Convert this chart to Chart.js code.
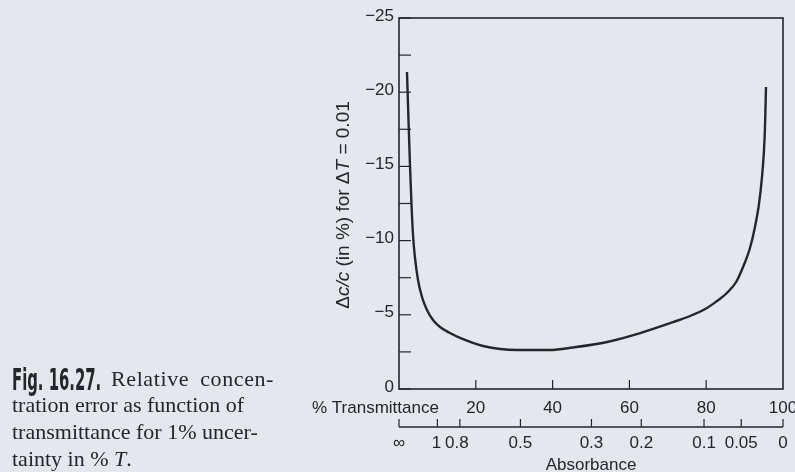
<!DOCTYPE html>
<html>
<head>
<meta charset="utf-8">
<script src="https://cdn.jsdelivr.net/npm/chart.js@4.4.0/dist/chart.umd.min.js"></script>
<style>
  html, body { margin: 0; padding: 0; background: #e4e7ed; }
  #wrap { position: relative; width: 795px; height: 472px; overflow: hidden; }
  #c { position: absolute; left: 0; top: 0; }
  .cap { position: absolute; font-family: "Liberation Serif", serif; font-size: 22px; line-height: 22px; color: #262626; white-space: nowrap; }
  .fig { position: absolute; left: 12px; top: 365px; font-family: "Liberation Sans Narrow", "DejaVu Sans Condensed", sans-serif; font-weight: bold; font-size: 30px; line-height: 30px; color: #262626; white-space: nowrap; transform: scaleX(0.55); transform-origin: left top; }
</style>
</head>
<body>
<div id="wrap">
  <canvas id="c" width="795" height="472"></canvas>
  <div class="fig">Fig. 16.27.</div>
  <div class="cap" style="left: 111px; top: 368px; word-spacing: 5px; letter-spacing: 0.6px;">Relative concen-</div>
  <div class="cap" style="left: 12px; top: 394px;">tration error as function of</div>
  <div class="cap" style="left: 12px; top: 421px;">transmittance for 1% uncer-</div>
  <div class="cap" style="left: 12px; top: 448px;">tainty in % <i>T</i>.</div>
</div>
<script>
// curve: % transmittance vs relative concentration error (%)
const pctT   = [2.08, 2.47, 2.86, 3.26, 3.65, 4.17, 4.95, 5.99, 7.29, 8.85, 10.68, 13.28, 15.89, 21.88, 30.73, 39.3, 45.3, 54.2, 62.8, 71.4, 75.8, 80.2, 82.8, 85.4, 87.8, 89.6, 91.4, 92.7, 93.75, 94.53, 95.05, 95.31, 95.57];
const errPct = [-21.36, -18.13, -15.09, -12.4, -10.38, -8.83, -7.35, -6.2, -5.32, -4.65, -4.18, -3.77, -3.44, -2.9, -2.63, -2.63, -2.8, -3.17, -3.77, -4.51, -4.92, -5.46, -5.93, -6.47, -7.21, -8.22, -9.5, -10.92, -12.47, -14.29, -16.1, -17.65, -20.35];

const yTickMarks  = [-25, -22.5, -20, -17.5, -15, -12.5, -10, -7.5, -5, -2.5, 0];
const yTickLabels = [-25, -20, -15, -10, -5, 0];
const tTicks      = [20, 40, 60, 80, 100];
const absLabels   = ['\u221e', '1', '0.8', '0.5', '0.3', '0.2', '0.1', '0.05', '0'];
const absValues   = [Infinity, 1, 0.8, 0.5, 0.3, 0.2, 0.1, 0.05, 0];

const ink = '#262626';
const sans = '"Liberation Sans", Arial, sans-serif';

function minusStr(v){ return v < 0 ? '\u2212' + Math.abs(v) : String(v); }

function drawSegments(ctx, segs, x, y, size){
    // mixed italic / upright runs, centred at x
    let total = 0;
    for(const s of segs){
        ctx.font = (s[1] ? 'italic ' : '') + size + 'px ' + sans;
        total += ctx.measureText(s[0]).width;
    }
    let cx = x - total / 2;
    for(const s of segs){
        ctx.font = (s[1] ? 'italic ' : '') + size + 'px ' + sans;
        ctx.fillText(s[0], cx, y);
        cx += ctx.measureText(s[0]).width;
    }
}

const axesPlugin = {
    id: 'bookAxes',
    afterDraw(chart){
        const ctx = chart.ctx;
        const xs = chart.scales.x, ys = chart.scales.y;
        const a = chart.chartArea;
        ctx.save();
        ctx.strokeStyle = ink;
        ctx.fillStyle = ink;

        // frame
        ctx.lineWidth = 1.6;
        ctx.strokeRect(a.left, a.top, a.right - a.left, a.bottom - a.top);

        // y ticks (inward)
        ctx.lineWidth = 1.2;
        for(const v of yTickMarks){
            const py = ys.getPixelForValue(v);
            ctx.beginPath(); ctx.moveTo(a.left, py); ctx.lineTo(a.left + 12, py); ctx.stroke();
        }
        ctx.font = '17px ' + sans;
        ctx.textAlign = 'right'; ctx.textBaseline = 'middle';
        for(const v of yTickLabels){
            ctx.fillText(minusStr(v), a.left - 5, ys.getPixelForValue(v) - 2);
        }

        // transmittance ticks (inward from bottom)
        for(const v of tTicks){
            if(v >= 100) continue;
            const px = xs.getPixelForValue(v);
            ctx.beginPath(); ctx.moveTo(px, a.bottom); ctx.lineTo(px, a.bottom - 9); ctx.stroke();
        }
        ctx.textAlign = 'center';
        for(const v of tTicks){
            ctx.fillText(String(v), xs.getPixelForValue(v), a.bottom + 19);
        }
        ctx.textAlign = 'left';
        ctx.fillText('% Transmittance', 312, a.bottom + 19);

        // absorbance axis
        const ay = a.bottom + 38;
        ctx.lineWidth = 1.6;
        ctx.beginPath(); ctx.moveTo(a.left, ay); ctx.lineTo(a.right, ay); ctx.stroke();
        ctx.lineWidth = 1.2;
        ctx.textAlign = 'center';
        absValues.forEach(function(A, i){
            const T = isFinite(A) ? 100 * Math.pow(10, -A) : 0;
            const px = xs.getPixelForValue(T);
            ctx.beginPath(); ctx.moveTo(px, ay); ctx.lineTo(px, ay - 8); ctx.stroke();
            let lx = px;
            if(absLabels[i] === '1') lx = px - 1;
            if(absLabels[i] === '0.8') lx = px - 3;
            ctx.fillText(absLabels[i], lx, ay + 16);
        });
        ctx.fillText('Absorbance', xs.getPixelForValue(50), ay + 38);

        // y title, rotated
        ctx.translate(344, 205);
        ctx.rotate(-Math.PI / 2);
        ctx.textAlign = 'left';
        drawSegments(ctx, [['\u0394', false], ['c/c', true], [' (in %) for \u0394', false], ['T', true], [' = 0.01', false]], 0, 0, 19);
        ctx.restore();
    }
};

new Chart(document.getElementById('c'), {
    type: 'line',
    data: {
        datasets: [{
            data: pctT.map((t, i) => ({x: t, y: errPct[i]})),
            borderColor: ink,
            borderWidth: 2.4,
            pointRadius: 0,
            fill: false,
            cubicInterpolationMode: 'monotone',
        }]
    },
    options: {
        responsive: false,
        animation: false,
        devicePixelRatio: 1,
        layout: { padding: { left: 399, right: 12, top: 18, bottom: 83 } },
        plugins: { legend: { display: false }, tooltip: { enabled: false } },
        scales: {
            x: { type: 'linear', min: 0, max: 100, display: false },
            y: { type: 'linear', min: -25, max: 0, reverse: true, display: false },
        },
    },
    plugins: [axesPlugin],
});
</script>
</body>
</html>
